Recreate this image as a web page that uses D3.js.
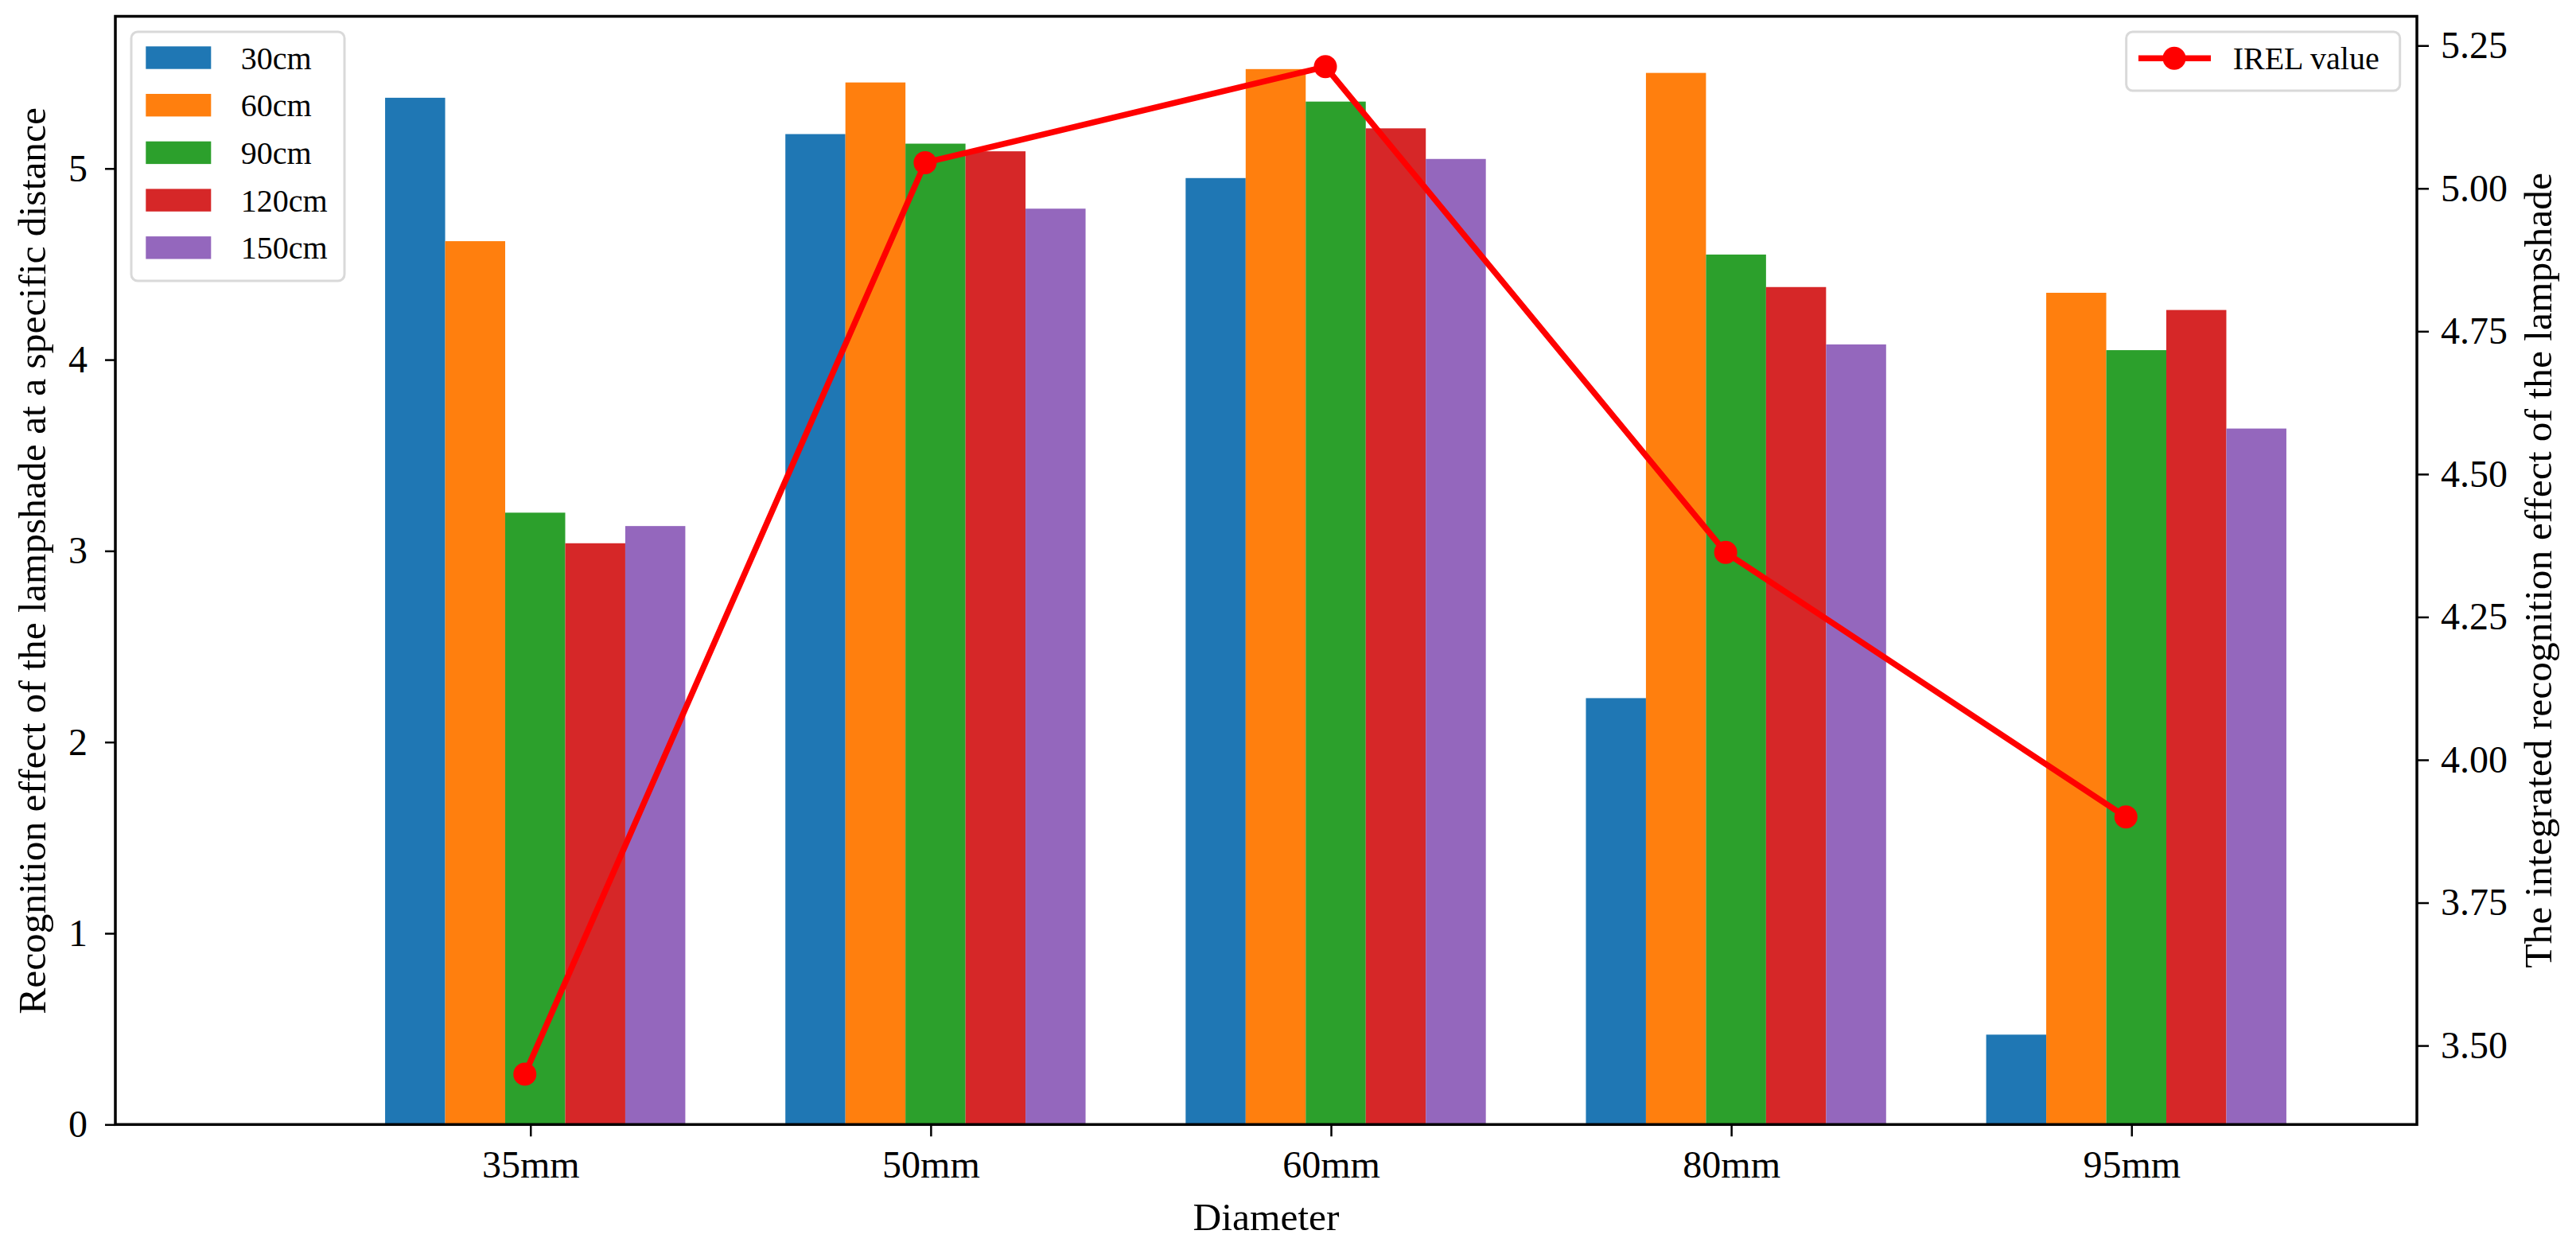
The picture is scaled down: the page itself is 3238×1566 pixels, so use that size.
<!DOCTYPE html>
<html>
<head>
<meta charset="utf-8">
<script src="https://cdn.jsdelivr.net/npm/d3@7"></script>
<style>
  html, body { margin: 0; padding: 0; background: #fff; }
  svg { display: block; }
  text { font-family: "Liberation Serif", "Times New Roman", serif; fill: #000; }
</style>
</head>
<body>
<svg id="chart" width="3238" height="1566"></svg>
<script>
// ---------- data ----------
const categories = ["35mm", "50mm", "60mm", "80mm", "95mm"];
const seriesNames = ["30cm", "60cm", "90cm", "120cm", "150cm"];
const values30cm  = [5.37, 5.18, 4.95, 2.23, 0.47];
const values60cm  = [4.62, 5.45, 5.52, 5.50, 4.35];
const values90cm  = [3.20, 5.13, 5.35, 4.55, 4.05];
const values120cm = [3.04, 5.09, 5.21, 4.38, 4.26];
const values150cm = [3.13, 4.79, 5.05, 4.08, 3.64];
const irelValues  = [3.45, 5.045, 5.213, 4.363, 3.90];
const leftTicks  = [0, 1, 2, 3, 4, 5];
const rightTicks = [3.50, 3.75, 4.00, 4.25, 4.50, 4.75, 5.00, 5.25];
const colors = ["#1f77b4", "#ff7f0e", "#2ca02c", "#d62728", "#9467bd"];
const lineColor = "#ff0000";
const leftLabel = "Recognition effect of the lampshade at a specific distance";
const rightLabel = "The integrated recognition effect of the lampshade";
const xLabel = "Diameter";
const lineLegend = "IREL value";

const seriesValues = [values30cm, values60cm, values90cm, values120cm, values150cm];

// ---------- layout ----------
const plot = { left: 145, right: 3038, top: 20.5, bottom: 1413.3 };
const barWidthUnits = 0.15;
const barShiftPx = 6, lineShiftPx = -7;
const fontSize = 48, labelFont = 49.5, legendFont = 40;

const svg = d3.select("#chart");

const x = d3.scaleLinear().domain([-1.037, 4.713]).range([plot.left, plot.right]);
const barMax = d3.max(seriesValues.flat());
const yL = d3.scaleLinear().domain([0, barMax * 1.05]).range([plot.bottom, plot.top]);
const lmin = d3.min(irelValues), lmax = d3.max(irelValues), lr = lmax - lmin;
const yR = d3.scaleLinear().domain([lmin - 0.05 * lr, lmax + 0.05 * lr]).range([plot.bottom, plot.top]);

const unitPx = x(1) - x(0);
const bw = barWidthUnits * unitPx;

// bars
seriesValues.forEach((vals, s) => {
  svg.append("g").selectAll("rect").data(vals).join("rect")
    .attr("x", (d, i) => x(i) + (s - 2) * bw - bw / 2 + barShiftPx)
    .attr("width", bw)
    .attr("y", d => yL(d))
    .attr("height", d => yL(0) - yL(d))
    .attr("fill", colors[s]);
});

// line
const line = d3.line().x((d, i) => x(i) + lineShiftPx).y(d => yR(d));
svg.append("path").datum(irelValues)
  .attr("d", line).attr("fill", "none")
  .attr("stroke", lineColor).attr("stroke-width", 7.5).attr("stroke-linejoin", "round");
svg.append("g").selectAll("circle").data(irelValues).join("circle")
  .attr("cx", (d, i) => x(i) + lineShiftPx).attr("cy", d => yR(d)).attr("r", 14.5)
  .attr("fill", lineColor);

// axes
const axisStyle = g => {
  g.selectAll(".domain").remove();
  g.selectAll(".tick line").attr("stroke", "#000").attr("stroke-width", 2.5);
  g.selectAll(".tick text").attr("font-size", fontSize)
    .attr("font-family", "'Liberation Serif', 'Times New Roman', serif");
};

svg.append("g").attr("transform", `translate(${plot.left},0)`)
  .call(d3.axisLeft(yL).tickValues(leftTicks).tickFormat(d3.format("d")).tickSize(13).tickPadding(22))
  .call(axisStyle);

svg.append("g").attr("transform", `translate(${plot.right},0)`)
  .call(d3.axisRight(yR).tickValues(rightTicks).tickFormat(d3.format(".2f")).tickSize(15).tickPadding(15))
  .call(axisStyle);

svg.append("g").attr("transform", `translate(0,${plot.bottom})`)
  .call(d3.axisBottom(x).tickValues(d3.range(categories.length)).tickFormat(i => categories[i]).tickSize(15).tickPadding(18))
  .call(axisStyle)
  .selectAll(".tick text").attr("dy", "0.71em");

// frame
svg.append("rect")
  .attr("x", plot.left).attr("y", plot.top)
  .attr("width", plot.right - plot.left).attr("height", plot.bottom - plot.top)
  .attr("fill", "none").attr("stroke", "#000").attr("stroke-width", 3.5);

// axis labels
svg.append("text")
  .attr("transform", `translate(57,${(plot.top + plot.bottom) / 2 - 12}) rotate(-90)`)
  .attr("text-anchor", "middle").attr("font-size", labelFont).text(leftLabel);
svg.append("text")
  .attr("transform", `translate(3207,${(plot.top + plot.bottom) / 2}) rotate(-90)`)
  .attr("text-anchor", "middle").attr("font-size", labelFont).text(rightLabel);
svg.append("text")
  .attr("x", (plot.left + plot.right) / 2).attr("y", 1546)
  .attr("text-anchor", "middle").attr("font-size", labelFont).text(xLabel);

// legend 1 (bars)
const lg1 = svg.append("g");
lg1.append("rect").attr("x", 165).attr("y", 40).attr("width", 268).attr("height", 313)
  .attr("rx", 8).attr("fill", "#fff").attr("fill-opacity", 0.8)
  .attr("stroke", "#d9d9d9").attr("stroke-width", 3);
seriesNames.forEach((name, s) => {
  const cy = 72.5 + s * 59.7;
  lg1.append("rect").attr("x", 183.3).attr("y", cy - 14.2).attr("width", 82).attr("height", 28.4)
    .attr("fill", colors[s]);
  lg1.append("text").attr("x", 302.7).attr("y", cy + 14).attr("font-size", legendFont).text(name);
});

// legend 2 (line)
const lg2 = svg.append("g");
lg2.append("rect").attr("x", 2672.7).attr("y", 40).attr("width", 344).attr("height", 74)
  .attr("rx", 8).attr("fill", "#fff").attr("fill-opacity", 0.8)
  .attr("stroke", "#d9d9d9").attr("stroke-width", 3);
lg2.append("line").attr("x1", 2688).attr("x2", 2779).attr("y1", 73.3).attr("y2", 73.3)
  .attr("stroke", lineColor).attr("stroke-width", 7.5);
lg2.append("circle").attr("cx", 2733).attr("cy", 73.3).attr("r", 14.5).attr("fill", lineColor);
lg2.append("text").attr("x", 2806.7).attr("y", 87.3).attr("font-size", legendFont).text(lineLegend);
</script>
</body>
</html>
